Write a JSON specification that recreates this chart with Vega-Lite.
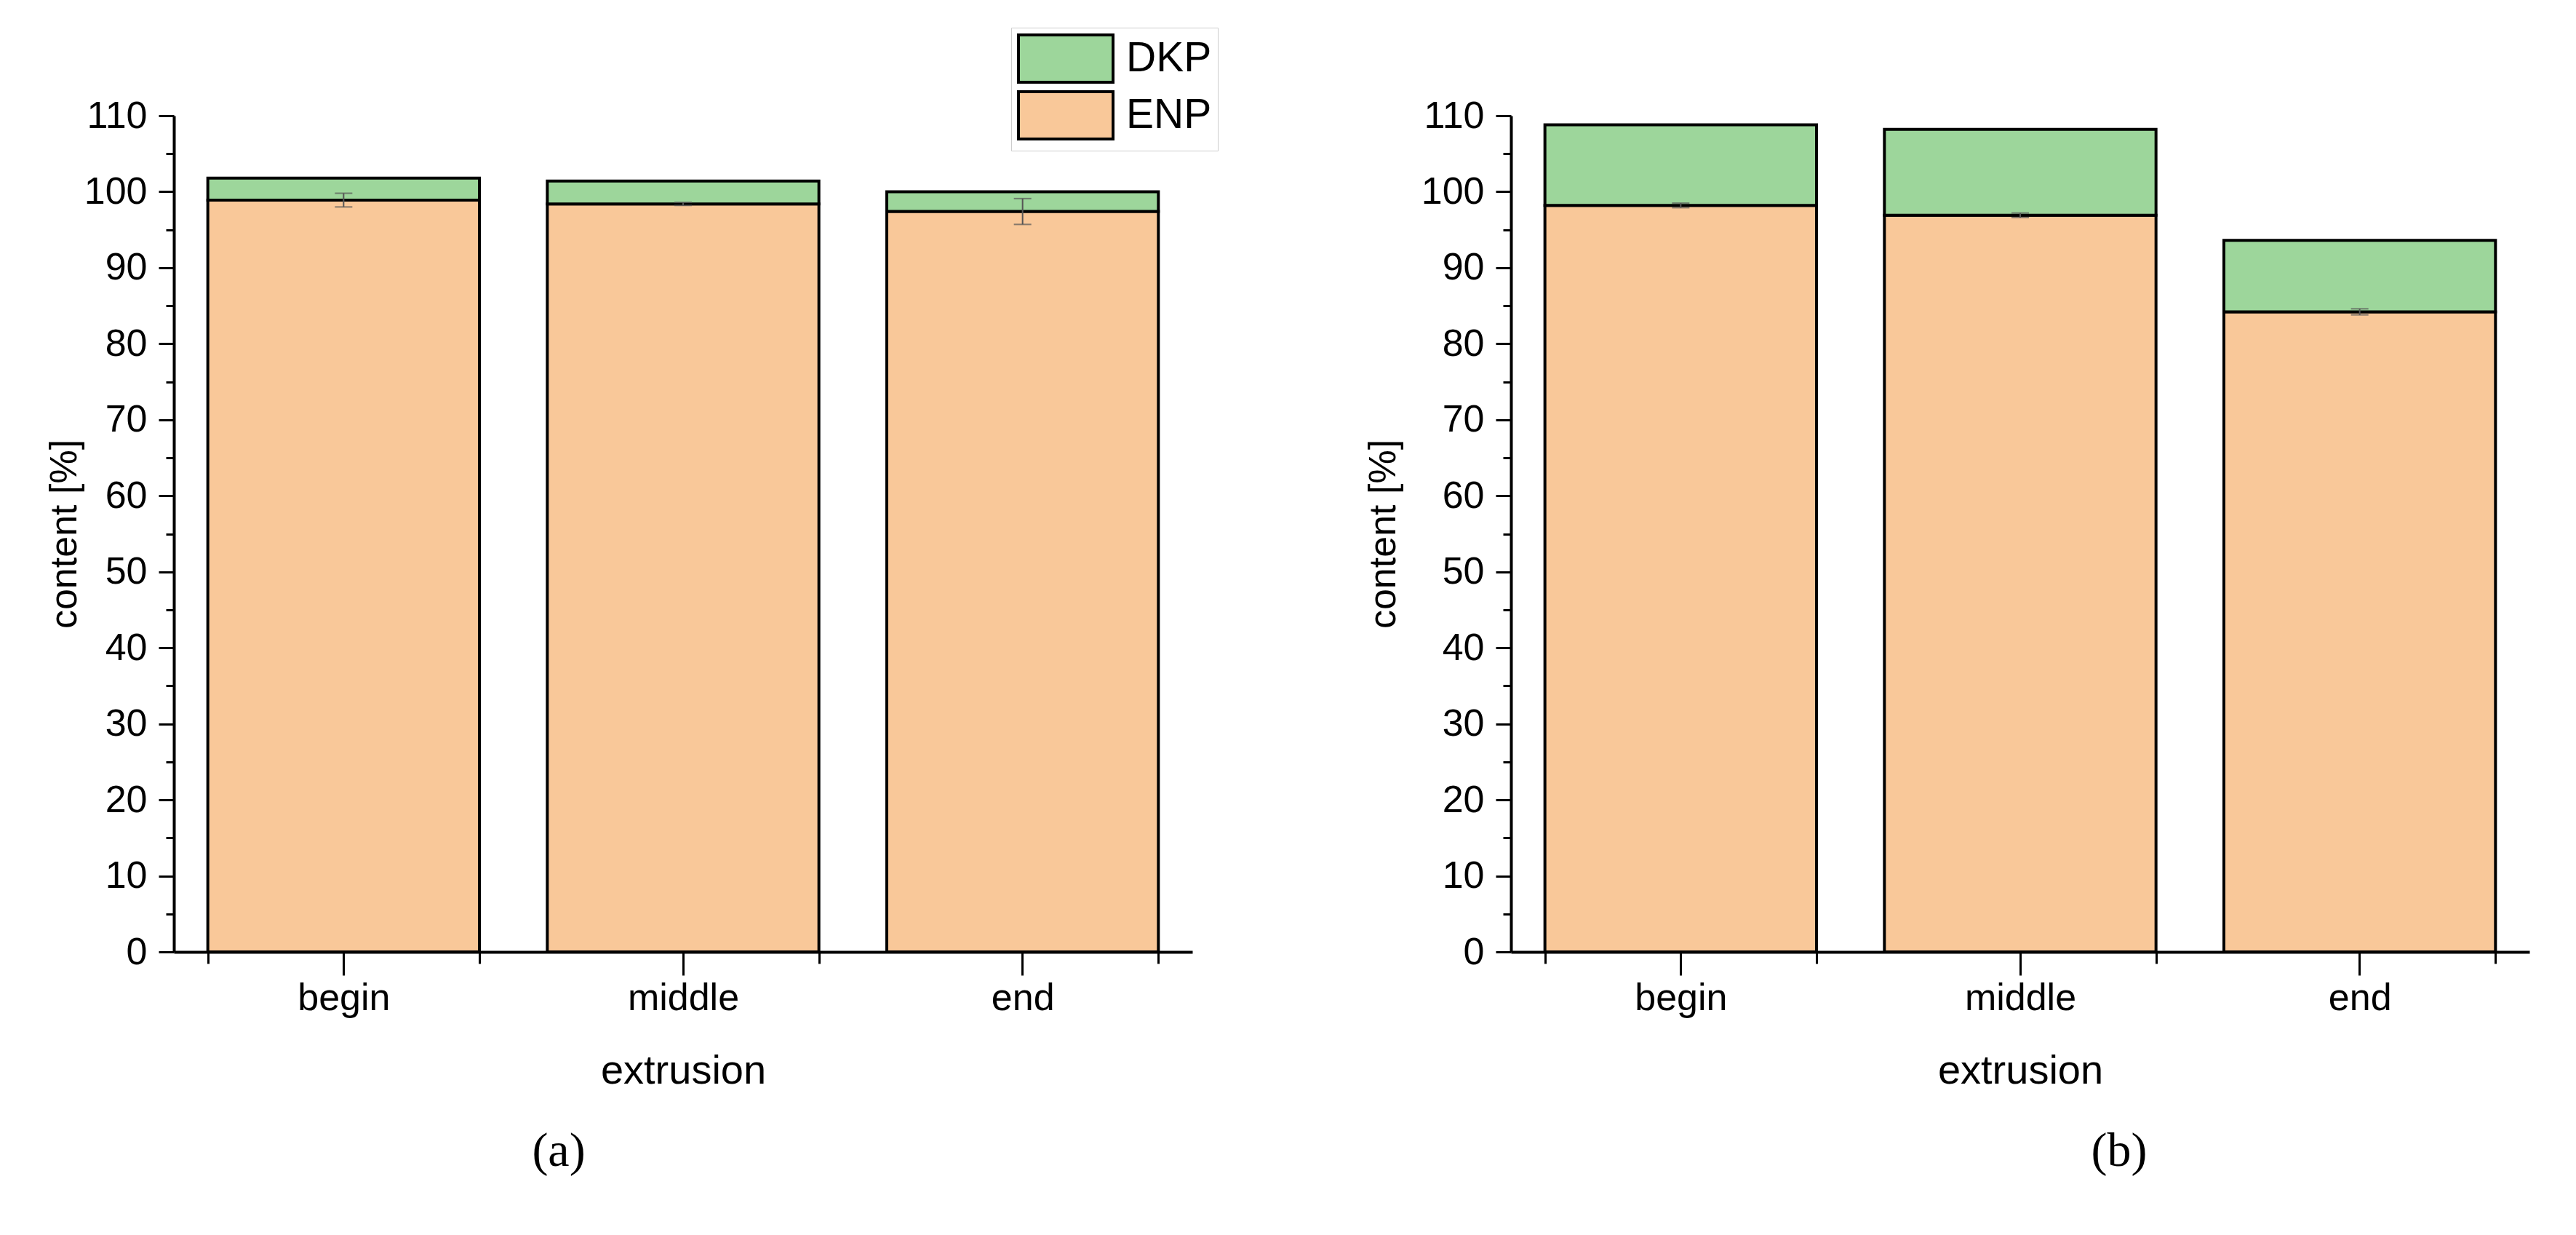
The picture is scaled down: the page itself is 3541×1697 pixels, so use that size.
{
  "$schema": "https://vega.github.io/schema/vega-lite/v6.json",
  "background": "white",
  "padding": {"left": 62, "top": 37, "right": 10, "bottom": 10},
  "spacing": 236,
  "config": {
    "view": {"stroke": null},
    "font": "'Liberation Sans', sans-serif",
    "axis": {
      "labelFont": "'Liberation Sans', sans-serif",
      "labelFontSize": 52,
      "labelColor": "black",
      "titleFont": "'Liberation Sans', sans-serif",
      "titleFontSize": 52,
      "titleFontWeight": "normal",
      "titleColor": "black",
      "domainColor": "black",
      "domainWidth": 4,
      "tickColor": "black",
      "tickWidth": 3,
      "grid": false
    },
    "title": {
      "font": "'Liberation Serif', 'DejaVu Serif', serif",
      "fontSize": 66,
      "fontWeight": "normal",
      "color": "black"
    }
  },
  "data": {
    "values": [
      {"panel": "a", "position": "begin", "component": "ENP", "value": 98.9, "lo": 98.0, "hi": 99.8},
      {"panel": "a", "position": "begin", "component": "DKP", "value": 2.9},
      {"panel": "a", "position": "middle", "component": "ENP", "value": 98.4, "lo": 98.2, "hi": 98.6},
      {"panel": "a", "position": "middle", "component": "DKP", "value": 3.0},
      {"panel": "a", "position": "end", "component": "ENP", "value": 97.4, "lo": 95.7, "hi": 99.1},
      {"panel": "a", "position": "end", "component": "DKP", "value": 2.6},
      {"panel": "b", "position": "begin", "component": "ENP", "value": 98.2, "lo": 97.9, "hi": 98.5},
      {"panel": "b", "position": "begin", "component": "DKP", "value": 10.6},
      {"panel": "b", "position": "middle", "component": "ENP", "value": 96.9, "lo": 96.6, "hi": 97.2},
      {"panel": "b", "position": "middle", "component": "DKP", "value": 11.3},
      {"panel": "b", "position": "end", "component": "ENP", "value": 84.2, "lo": 83.8, "hi": 84.6},
      {"panel": "b", "position": "end", "component": "DKP", "value": 9.4}
    ]
  },
  "hconcat": [
    {
      "width": 1400,
      "height": 1149,
      "transform": [{"filter": "datum.panel === 'a'"}],
      "title": {"text": "(a)", "orient": "bottom", "anchor": "middle", "dx": -171, "offset": 51},
      "resolve": {"axis": {"x": "independent"}},
      "layer": [
        {
          "mark": {"type": "bar", "stroke": "black", "strokeWidth": 4},
          "encoding": {
            "x": {"field": "position", "type": "nominal", "sort": ["begin", "middle", "end"],
                  "scale": {"paddingInner": 0.2, "paddingOuter": 0.1},
                  "axis": {"orient": "bottom", "title": "extrusion", "labelAngle": 0, "tickBand": "extent", "tickSize": 16, "labelPadding": 22, "titlePadding": 47, "titleFontSize": 56}},
            "y": {"field": "value", "type": "quantitative", "stack": "zero", "title": "content [%]",
                  "scale": {"domain": [0, 110], "nice": false},
                  "axis": {"values": [0,5,10,15,20,25,30,35,40,45,50,55,60,65,70,75,80,85,90,95,100,105,110],
                           "tickSize": {"expr": "datum.value % 10 === 0 ? 21 : 11"},
                           "labelExpr": "datum.value % 10 === 0 ? datum.label : ''",
                           "labelPadding": 16, "titlePadding": 0}},
            "color": {"field": "component", "type": "nominal",
                      "scale": {"domain": ["DKP", "ENP"], "range": ["#9DD69B", "#F9C899"]},
                      "legend": {"orient": "none", "legendX": 1151, "legendY": -121, "title": null,
                                 "symbolType": "M-1,-1H3V1H-1Z", "symbolSize": 4225,
                                 "symbolStrokeColor": "black", "symbolStrokeWidth": 4, "symbolOpacity": 1,
                                 "labelFontSize": 57, "labelColor": "black", "labelOffset": 81,
                                 "strokeColor": "#cccccc", "padding": 8, "rowPadding": -3}},
            "order": {"field": "component", "sort": "descending"}
          }
        },
        {
          "transform": [{"filter": "datum.component === 'ENP'"}],
          "mark": {"type": "rule", "color": "#555555", "strokeWidth": 2},
          "encoding": {
            "x": {"field": "position", "type": "nominal", "sort": ["begin", "middle", "end"],
                  "axis": {"orient": "bottom", "title": null, "labels": false, "domain": false, "tickBand": "center", "tickSize": 32}},
            "y": {"field": "lo", "type": "quantitative", "title": "content [%]"},
            "y2": {"field": "hi"}
          }
        },
        {
          "transform": [{"filter": "datum.component === 'ENP'"}],
          "mark": {"type": "tick", "color": "#555555", "thickness": 2, "size": 24},
          "encoding": {
            "x": {"field": "position", "type": "nominal", "sort": ["begin", "middle", "end"], "axis": null},
            "y": {"field": "lo", "type": "quantitative", "title": "content [%]"}
          }
        },
        {
          "transform": [{"filter": "datum.component === 'ENP'"}],
          "mark": {"type": "tick", "color": "#555555", "thickness": 2, "size": 24},
          "encoding": {
            "x": {"field": "position", "type": "nominal", "sort": ["begin", "middle", "end"], "axis": null},
            "y": {"field": "hi", "type": "quantitative", "title": "content [%]"}
          }
        }
      ]
    },
    {
      "width": 1400,
      "height": 1149,
      "transform": [{"filter": "datum.panel === 'b'"}],
      "title": {"text": "(b)", "orient": "bottom", "anchor": "middle", "dx": 136, "offset": 51},
      "resolve": {"axis": {"x": "independent"}},
      "layer": [
        {
          "mark": {"type": "bar", "stroke": "black", "strokeWidth": 4},
          "encoding": {
            "x": {"field": "position", "type": "nominal", "sort": ["begin", "middle", "end"],
                  "scale": {"paddingInner": 0.2, "paddingOuter": 0.1},
                  "axis": {"orient": "bottom", "title": "extrusion", "labelAngle": 0, "tickBand": "extent", "tickSize": 16, "labelPadding": 22, "titlePadding": 47, "titleFontSize": 56}},
            "y": {"field": "value", "type": "quantitative", "stack": "zero", "title": "content [%]",
                  "scale": {"domain": [0, 110], "nice": false},
                  "axis": {"values": [0,5,10,15,20,25,30,35,40,45,50,55,60,65,70,75,80,85,90,95,100,105,110],
                           "tickSize": {"expr": "datum.value % 10 === 0 ? 21 : 11"},
                           "labelExpr": "datum.value % 10 === 0 ? datum.label : ''",
                           "labelPadding": 16, "titlePadding": 25}},
            "color": {"field": "component", "type": "nominal",
                      "scale": {"domain": ["DKP", "ENP"], "range": ["#9DD69B", "#F9C899"]},
                      "legend": {"orient": "none", "legendX": 1171, "legendY": -122, "title": null,
                                 "symbolType": "M-1,-1H3V1H-1Z", "symbolSize": 4225,
                                 "symbolStrokeColor": "black", "symbolStrokeWidth": 4, "symbolOpacity": 1,
                                 "labelFontSize": 57, "labelColor": "black", "labelOffset": 81,
                                 "strokeColor": "#cccccc", "padding": 8, "rowPadding": -3}},
            "order": {"field": "component", "sort": "descending"}
          }
        },
        {
          "transform": [{"filter": "datum.component === 'ENP'"}],
          "mark": {"type": "rule", "color": "#555555", "strokeWidth": 2},
          "encoding": {
            "x": {"field": "position", "type": "nominal", "sort": ["begin", "middle", "end"],
                  "axis": {"orient": "bottom", "title": null, "labels": false, "domain": false, "tickBand": "center", "tickSize": 32}},
            "y": {"field": "lo", "type": "quantitative", "title": "content [%]"},
            "y2": {"field": "hi"}
          }
        },
        {
          "transform": [{"filter": "datum.component === 'ENP'"}],
          "mark": {"type": "tick", "color": "#555555", "thickness": 2, "size": 24},
          "encoding": {
            "x": {"field": "position", "type": "nominal", "sort": ["begin", "middle", "end"], "axis": null},
            "y": {"field": "lo", "type": "quantitative", "title": "content [%]"}
          }
        },
        {
          "transform": [{"filter": "datum.component === 'ENP'"}],
          "mark": {"type": "tick", "color": "#555555", "thickness": 2, "size": 24},
          "encoding": {
            "x": {"field": "position", "type": "nominal", "sort": ["begin", "middle", "end"], "axis": null},
            "y": {"field": "hi", "type": "quantitative", "title": "content [%]"}
          }
        }
      ]
    }
  ]
}
